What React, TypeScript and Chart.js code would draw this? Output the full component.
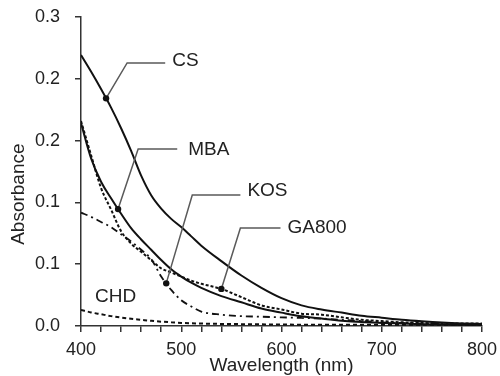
import React, { useEffect, useRef } from "react";
import { Chart, registerables } from "chart.js";

Chart.register(...registerables);

// ---- data ----
const wavelengths = [400, 410, 420, 430, 440, 450, 460, 470, 480, 490, 500, 510, 520, 540, 560, 580, 600, 620, 640, 660, 680, 700, 720, 740, 760, 780, 800];

const csValues = [0.263, 0.247, 0.23, 0.212, 0.192, 0.17, 0.146, 0.127, 0.114, 0.104, 0.096, 0.087, 0.078, 0.063, 0.049, 0.037, 0.027, 0.02, 0.016, 0.013, 0.01, 0.008, 0.006, 0.0045, 0.0033, 0.0025, 0.002];
const mbaValues = [0.197, 0.163, 0.14, 0.124, 0.109, 0.095, 0.084, 0.074, 0.064, 0.055, 0.048, 0.042, 0.037, 0.029, 0.023, 0.017, 0.013, 0.0094, 0.0072, 0.0052, 0.0038, 0.003, 0.0024, 0.0018, 0.0014, 0.0012, 0.0012];
const ga800Values = [0.199, 0.166, 0.134, 0.113, 0.092, 0.08, 0.072, 0.064, 0.056, 0.052, 0.048, 0.044, 0.041, 0.036, 0.028, 0.02, 0.016, 0.012, 0.011, 0.0084, 0.006, 0.0048, 0.0036, 0.003, 0.0024, 0.0024, 0.0024];
const kosValues = [0.11, 0.106, 0.101, 0.096, 0.089, 0.082, 0.074, 0.065, 0.048, 0.035, 0.025, 0.019, 0.014, 0.011, 0.0096, 0.009, 0.0084, 0.0078, 0.0072, 0.006, 0.0048, 0.0036, 0.003, 0.0024, 0.0018, 0.0012, 0.0012];
const chdValues = [0.0156, 0.0132, 0.0114, 0.0096, 0.0082, 0.007, 0.006, 0.005, 0.0042, 0.0036, 0.003, 0.0026, 0.0024, 0.002, 0.0018, 0.0016, 0.0014, 0.0013, 0.0012, 0.0012, 0.0012, 0.0012, 0.0012, 0.0012, 0.0012, 0.0012, 0.0012];

// marker dots on curves (CS, MBA, KOS, GA800)
const markerWavelengths = [425, 437, 485, 540];
const markerValues = [0.221, 0.1135, 0.0414, 0.036];

const seriesNames = ["CS", "MBA", "KOS", "GA800", "CHD"];
const xTickLabels = ["400", "500", "600", "700", "800"];
const yTickLabels = ["0.0", "0.1", "0.1", "0.2", "0.2", "0.3"];
const xTitle = "Wavelength (nm)";
const yTitle = "Absorbance";

// ---- callout layout (data coordinates) ----
const callouts = [
  { name: 0, marker: 0, elbow: [446, 0.2554], end: [484, 0.2554], label: [491, 0.2572] },
  { name: 1, marker: 1, elbow: [457, 0.1718], end: [496, 0.1718], label: [507, 0.1709] },
  { name: 2, marker: 2, elbow: [511, 0.1272], end: [559, 0.1272], label: [566, 0.1314] },
  { name: 3, marker: 3, elbow: [559, 0.0952], end: [599, 0.0952], label: [606, 0.0956] },
  { name: 4, marker: -1, elbow: null, end: null, label: [414, 0.0282] },
];
const yTitleCenterValue = 0.128;

const FONT = '"Liberation Sans", Arial, sans-serif';

const toPoints = (vals: number[]) => wavelengths.map((w, i) => ({ x: w, y: vals[i] }));

const calloutPlugin = {
  id: "callouts",
  afterDatasetsDraw(chart: any) {
    const { ctx, scales } = chart;
    const xs = scales.x;
    const ys = scales.y;
    ctx.save();
    ctx.strokeStyle = "#5a5a5a";
    ctx.lineWidth = 1.5;
    for (const c of callouts) {
      if (c.marker >= 0 && c.elbow && c.end) {
        ctx.beginPath();
        ctx.moveTo(xs.getPixelForValue(markerWavelengths[c.marker]), ys.getPixelForValue(markerValues[c.marker]));
        ctx.lineTo(xs.getPixelForValue(c.elbow[0]), ys.getPixelForValue(c.elbow[1]));
        ctx.lineTo(xs.getPixelForValue(c.end[0]), ys.getPixelForValue(c.end[1]));
        ctx.stroke();
      }
    }
    ctx.fillStyle = "#111";
    for (let i = 0; i < markerWavelengths.length; i++) {
      ctx.beginPath();
      ctx.arc(xs.getPixelForValue(markerWavelengths[i]), ys.getPixelForValue(markerValues[i]), 3.2, 0, Math.PI * 2);
      ctx.fill();
    }
    ctx.font = `19px ${FONT}`;
    ctx.fillStyle = "#222";
    ctx.textAlign = "left";
    ctx.textBaseline = "middle";
    for (const c of callouts) {
      ctx.fillText(seriesNames[c.name], xs.getPixelForValue(c.label[0]), ys.getPixelForValue(c.label[1]));
    }
    // y axis title
    ctx.translate(ys.left + 19, ys.getPixelForValue(yTitleCenterValue));
    ctx.rotate(-Math.PI / 2);
    ctx.textAlign = "center";
    ctx.fillText(yTitle, 0, 0);
    ctx.restore();
  },
};

const noPad = (s: any) => {
  s.paddingTop = 0;
  s.paddingBottom = 0;
  s.paddingLeft = 0;
  s.paddingRight = 0;
};

export default function App() {
  const ref = useRef<HTMLCanvasElement | null>(null);

  useEffect(() => {
    if (!ref.current) return;
    const line = (vals: number[], dash: number[], width: number) => ({
      data: toPoints(vals),
      borderColor: "#111",
      borderWidth: width,
      borderDash: dash,
      pointRadius: 0,
      fill: false,
      cubicInterpolationMode: "monotone" as const,
    });
    const chart = new Chart(ref.current, {
      type: "line",
      data: {
        datasets: [
          { label: "CS", ...line(csValues, [], 2) },
          { label: "MBA", ...line(mbaValues, [], 2) },
          { label: "GA800", ...line(ga800Values, [3, 2], 2) },
          { label: "KOS", ...line(kosValues, [7, 4, 2, 4], 1.8) },
          { label: "CHD", ...line(chdValues, [4, 3], 2) },
        ],
      },
      options: {
        animation: false,
        responsive: false,
        maintainAspectRatio: false,
        layout: { padding: { top: 17, right: 18, left: 0, bottom: 0 } },
        plugins: { legend: { display: false }, tooltip: { enabled: false } },
        scales: {
          x: {
            type: "linear",
            min: 400,
            max: 800,
            afterFit: (s: any) => {
              s.height = 50;
              noPad(s);
            },
            border: { display: true, color: "#333", width: 1.5 },
            grid: { drawOnChartArea: false, drawTicks: true, tickLength: 6, color: "#333", lineWidth: 1.5 },
            ticks: {
              stepSize: 20,
              autoSkip: false,
              maxRotation: 0,
              padding: 7,
              color: "#222",
              font: { family: FONT, size: 18 },
              callback: (_v: any, i: number) => (i % 5 === 0 ? xTickLabels[i / 5] : ""),
            },
            title: {
              display: true,
              text: xTitle,
              color: "#222",
              font: { family: FONT, size: 19 },
              padding: { top: 0, bottom: -1 },
            },
          },
          y: {
            min: 0,
            max: 0.3,
            afterFit: (s: any) => {
              s.width = 81;
              noPad(s);
            },
            border: { display: true, color: "#333", width: 1.5 },
            grid: { drawOnChartArea: false, drawTicks: true, tickLength: 6, color: "#333", lineWidth: 1.5 },
            ticks: {
              stepSize: 0.06,
              padding: 15,
              color: "#222",
              font: { family: FONT, size: 18 },
              callback: (_v: any, i: number) => yTickLabels[i],
            },
            title: { display: false },
          },
        },
      },
      plugins: [calloutPlugin],
    });
    return () => chart.destroy();
  }, []);

  return (
    <div style={{ position: "fixed", left: 0, top: 0, width: 500, height: 376, background: "#fff" }}>
      <canvas ref={ref} width={500} height={376} style={{ width: 500, height: 376, display: "block" }} />
    </div>
  );
}
